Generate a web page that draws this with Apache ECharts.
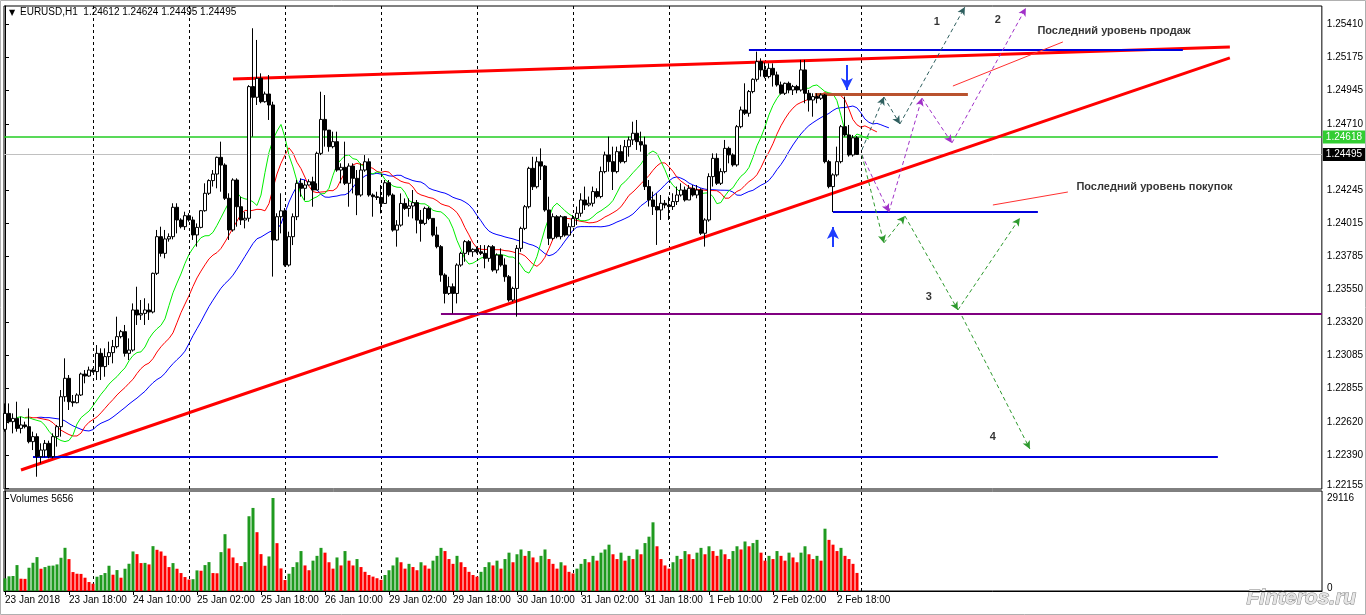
<!DOCTYPE html>
<html><head><meta charset="utf-8">
<script src="https://cdn.jsdelivr.net/npm/echarts@6/dist/echarts.min.js"></script>
<style>html,body{margin:0;padding:0;background:#fff}#c{width:1366px;height:615px}</style>
</head><body><div id="c"></div>
<script>
// ---------- DATA (EURUSD H1, bar index 0 = 23 Jan 2018 02:00) ----------
const opens=[1.22568,1.22680,1.22622,1.22645,1.22575,1.22599,1.22587,1.22482,1.22517,1.22377,
1.22423,1.22470,1.22377,1.22517,1.22587,1.22797,1.22926,1.22762,1.22755,1.22809,
1.22956,1.22942,1.22984,1.22973,1.23101,1.23008,1.23078,1.23106,1.23148,1.23218,
1.23253,1.23101,1.23124,1.23405,1.23370,1.23381,1.23405,1.23391,1.23662,1.23919,
1.23802,1.23903,1.23919,1.24125,1.24036,1.23989,1.24066,1.24036,1.23931,1.23984,
1.24101,1.24223,1.24312,1.24358,1.24475,1.24421,1.24188,1.23966,1.24316,1.24129,
1.24036,1.24048,1.24971,1.24896,1.25029,1.24865,1.24919,1.24842,1.23896,1.24059,
1.24100,1.23720,1.23919,1.24059,1.24293,1.24258,1.24281,1.24304,1.24246,1.24503,
1.24741,1.24666,1.24550,1.24585,1.24386,1.24405,1.24293,1.24414,1.24328,1.24211,
1.24386,1.24444,1.24211,1.24199,1.24194,1.24152,1.24297,1.24211,1.23965,1.24000,
1.24152,1.24117,1.24134,1.24157,1.24035,1.24012,1.24117,1.24047,1.23930,1.23849,
1.23650,1.23521,1.23568,1.23521,1.23720,1.23802,1.23884,1.23813,1.23830,1.23813,
1.23802,1.23767,1.23849,1.23685,1.23790,1.23720,1.23638,1.23475,1.23556,1.23837,
1.23977,1.24129,1.24398,1.24269,1.24444,1.24414,1.24106,1.23907,1.24059,1.23919,
1.24059,1.23930,1.23989,1.24047,1.24083,1.24176,1.24141,1.24153,1.24235,1.24200,
1.24375,1.24492,1.24445,1.24375,1.24515,1.24445,1.24550,1.24597,1.24644,1.24585,
1.24562,1.24270,1.24176,1.24130,1.24106,1.24153,1.24141,1.24130,1.24165,1.24211,
1.24246,1.24176,1.24258,1.24211,1.24246,1.23943,1.24036,1.24340,1.24468,1.24293,
1.24375,1.24538,1.24492,1.24422,1.24690,1.24807,1.24784,1.24936,1.25022,1.25146,
1.25088,1.25041,1.25099,1.25053,1.24983,1.24924,1.24994,1.24947,1.24971,1.24947,
1.25088,1.24924,1.24877,1.24901,1.24889,1.24912,1.24445,1.24270,1.24352,1.24445,
1.24690,1.24632,1.24492,1.24612];
const highs=[1.22750,1.22750,1.22680,1.22762,1.22657,1.22622,1.22715,1.22552,1.22540,1.22470,
1.22493,1.22489,1.22540,1.22599,1.22844,1.23066,1.22949,1.22809,1.22821,1.22966,
1.22984,1.23008,1.22996,1.23159,1.23136,1.23136,1.23183,1.23195,1.23358,1.23265,
1.23300,1.23206,1.23451,1.23568,1.23475,1.23487,1.23451,1.23667,1.23966,1.23989,
1.23966,1.23942,1.24153,1.24153,1.24048,1.24094,1.24083,1.24059,1.24012,1.24106,
1.24293,1.24321,1.24386,1.24480,1.24585,1.24433,1.24223,1.24328,1.24328,1.24199,
1.24094,1.24981,1.25380,1.25298,1.25064,1.24936,1.25052,1.24865,1.24083,1.24223,
1.24120,1.23954,1.24082,1.24316,1.24328,1.24316,1.24321,1.24339,1.24515,1.24935,
1.24912,1.24666,1.24655,1.24655,1.24433,1.24585,1.24433,1.24433,1.24386,1.24433,
1.24491,1.24468,1.24222,1.24234,1.24281,1.24316,1.24316,1.24222,1.24035,1.24222,
1.24187,1.24187,1.24246,1.24176,1.24106,1.24129,1.24129,1.24047,1.23989,1.23860,
1.23662,1.23638,1.23591,1.23732,1.23813,1.23895,1.23895,1.23837,1.23849,1.23860,
1.23860,1.23860,1.23860,1.23802,1.23837,1.23767,1.23650,1.23568,1.23860,1.23989,
1.24141,1.24409,1.24479,1.24479,1.24538,1.24421,1.24199,1.24082,1.24070,1.24070,
1.24064,1.24012,1.24070,1.24130,1.24223,1.24270,1.24200,1.24270,1.24258,1.24410,
1.24515,1.24620,1.24550,1.24550,1.24562,1.24597,1.24620,1.24725,1.24737,1.24655,
1.24620,1.24316,1.24235,1.24223,1.24211,1.24176,1.24200,1.24223,1.24270,1.24293,
1.24270,1.24281,1.24281,1.24281,1.24258,1.24048,1.24363,1.24503,1.24503,1.24398,
1.24597,1.24550,1.24503,1.24702,1.24831,1.24994,1.24947,1.25029,1.25216,1.25169,
1.25139,1.25134,1.25134,1.25076,1.25006,1.24999,1.25006,1.24983,1.24983,1.25158,
1.25158,1.24947,1.24924,1.24924,1.24924,1.24919,1.24457,1.24363,1.24550,1.24702,
1.24901,1.24702,1.24632,1.24624];
const lows=[1.22552,1.22610,1.22540,1.22552,1.22540,1.22575,1.22470,1.22423,1.22236,1.22330,
1.22372,1.22365,1.22365,1.22447,1.22517,1.22762,1.22704,1.22727,1.22750,1.22802,
1.22891,1.22937,1.22966,1.22914,1.22914,1.22937,1.23019,1.23031,1.23136,1.23206,
1.23078,1.23054,1.23113,1.23300,1.23335,1.23300,1.23335,1.23381,1.23650,1.23779,
1.23767,1.23884,1.23900,1.23942,1.23977,1.23966,1.24024,1.23896,1.23849,1.23977,
1.24094,1.24211,1.24270,1.24258,1.24234,1.24176,1.23896,1.23954,1.23989,1.24001,
1.23977,1.24024,1.24620,1.24842,1.24854,1.24858,1.24737,1.23639,1.23890,1.23942,
1.23709,1.23709,1.23860,1.24035,1.24199,1.24176,1.24281,1.24129,1.24293,1.24491,
1.24550,1.24515,1.24538,1.24374,1.24293,1.24281,1.24129,1.24222,1.24070,1.24199,
1.24374,1.24199,1.24059,1.24176,1.24082,1.24148,1.24199,1.23954,1.23849,1.23989,
1.24106,1.24059,1.24047,1.23942,1.23884,1.24000,1.24035,1.23919,1.23837,1.23603,
1.23451,1.23510,1.23381,1.23451,1.23708,1.23743,1.23790,1.23778,1.23802,1.23790,
1.23697,1.23743,1.23673,1.23662,1.23708,1.23603,1.23463,1.23463,1.23358,1.23813,
1.23965,1.24117,1.24246,1.24257,1.24316,1.24094,1.23860,1.23895,1.23907,1.23900,
1.23919,1.23930,1.23989,1.24001,1.24059,1.24106,1.24130,1.24130,1.24188,1.24188,
1.24363,1.24375,1.24246,1.24363,1.24433,1.24433,1.24480,1.24562,1.24527,1.24515,
1.24246,1.24130,1.24071,1.23861,1.24036,1.24118,1.24036,1.24106,1.24141,1.24200,
1.24165,1.24176,1.24200,1.24188,1.23931,1.23849,1.24024,1.24270,1.24281,1.24281,
1.24363,1.24433,1.24410,1.24410,1.24679,1.24772,1.24760,1.24924,1.25006,1.25041,
1.25029,1.25029,1.24971,1.24971,1.24915,1.24912,1.24924,1.24912,1.24924,1.24936,
1.24854,1.24796,1.24760,1.24854,1.24877,1.24433,1.24258,1.24092,1.24340,1.24433,
1.24620,1.24480,1.24480,1.24495];
const closes=[1.22680,1.22622,1.22645,1.22575,1.22599,1.22587,1.22482,1.22517,1.22377,1.22423,
1.22470,1.22377,1.22517,1.22587,1.22797,1.22926,1.22762,1.22755,1.22809,1.22956,
1.22942,1.22984,1.22973,1.23101,1.23008,1.23078,1.23106,1.23148,1.23218,1.23253,
1.23101,1.23124,1.23405,1.23370,1.23381,1.23405,1.23391,1.23662,1.23919,1.23802,
1.23903,1.23919,1.24125,1.24036,1.23989,1.24066,1.24036,1.23931,1.23984,1.24101,
1.24223,1.24312,1.24358,1.24475,1.24421,1.24188,1.23966,1.24316,1.24129,1.24036,
1.24048,1.24971,1.24896,1.25029,1.24865,1.24919,1.24842,1.23896,1.24059,1.24100,
1.23720,1.23919,1.24059,1.24293,1.24258,1.24281,1.24304,1.24246,1.24503,1.24741,
1.24666,1.24550,1.24585,1.24386,1.24405,1.24293,1.24414,1.24328,1.24211,1.24386,
1.24444,1.24211,1.24199,1.24194,1.24152,1.24297,1.24211,1.23965,1.24000,1.24152,
1.24117,1.24134,1.24157,1.24035,1.24012,1.24117,1.24047,1.23930,1.23849,1.23650,
1.23521,1.23568,1.23521,1.23720,1.23802,1.23884,1.23813,1.23830,1.23813,1.23802,
1.23767,1.23849,1.23685,1.23790,1.23720,1.23638,1.23475,1.23556,1.23837,1.23977,
1.24129,1.24398,1.24269,1.24444,1.24414,1.24106,1.23907,1.24059,1.23919,1.24059,
1.23930,1.23989,1.24047,1.24083,1.24176,1.24141,1.24153,1.24235,1.24200,1.24375,
1.24492,1.24445,1.24375,1.24515,1.24445,1.24550,1.24597,1.24644,1.24585,1.24562,
1.24270,1.24176,1.24130,1.24106,1.24153,1.24141,1.24130,1.24165,1.24211,1.24246,
1.24176,1.24258,1.24211,1.24246,1.23943,1.24036,1.24340,1.24468,1.24293,1.24375,
1.24538,1.24492,1.24422,1.24690,1.24807,1.24784,1.24936,1.25022,1.25146,1.25088,
1.25041,1.25099,1.25053,1.24983,1.24924,1.24994,1.24947,1.24971,1.24947,1.25088,
1.24924,1.24877,1.24901,1.24889,1.24912,1.24445,1.24270,1.24352,1.24445,1.24690,
1.24632,1.24492,1.24612,1.24495];
const volumes=[3952,4600,4700,8112,3848,3800,7280,8840,10608,6968,
7488,7904,7950,8320,10400,13520,9984,5928,5408,5350,
4160,2808,2288,4472,4992,5616,7904,5096,6552,4160,
6968,8528,12376,11544,8736,8800,8320,14040,12896,12376,
11024,7488,8736,6968,5616,4368,3600,3700,6448,6344,
8112,9048,5616,5550,12168,17784,13312,10504,8736,7800,
9048,23400,26000,18408,11544,7904,10816,29116,14976,7072,
3432,5408,7500,9000,12500,8000,6500,9500,11000,13500,
12000,9000,7000,10500,8000,12500,9500,8000,10000,7500,
6000,5000,4500,4000,3500,5000,6500,8000,10500,9000,
7000,8500,7500,6500,9000,8000,7000,9500,11000,13500,
12500,10000,8500,11000,9000,7500,6000,5000,4500,6000,
7500,9000,8000,9500,7000,10000,12000,9000,11500,13000,
11000,12500,10500,9000,11000,13000,10000,8500,7000,9000,
8000,6000,5500,7000,8500,10000,9000,11000,9500,12000,
13000,14500,11500,10000,12000,9500,11000,10000,13000,11500,
15000,17000,21500,14000,10000,8000,7000,9000,11000,10000,
12500,11500,10000,12000,13500,11500,14000,12500,11000,13000,
11500,10000,12500,14000,13000,15500,14000,15000,16000,12000,
9500,11000,10000,12500,11000,9500,12000,10500,9000,12000,
14000,11500,10000,11000,9500,19500,16000,14500,12500,13500,
11000,10000,8500,5656];
const symbolName='EURUSD,H1';
const askPrice=1.24618;
const timeLabels=['23 Jan 2018','23 Jan 18:00','24 Jan 10:00','25 Jan 02:00','25 Jan 18:00','26 Jan 10:00','29 Jan 02:00','29 Jan 18:00','30 Jan 10:00','31 Jan 02:00','31 Jan 18:00','1 Feb 10:00','2 Feb 02:00','2 Feb 18:00'];
const timeLabelBars=[0,16,32,48,64,80,96,112,128,144,160,176,192,208];
const daySeparators=[22,46,70,94,118,142,166,190,214];
const priceTicks=[1.22155,1.22390,1.22620,1.22855,1.23085,1.23320,1.23550,1.23785,1.24015,1.24245,1.24710,1.24945,1.25175,1.25410];
const volumeTicks=[0,29116];
// drawn objects (bar index, price)
const upperTrend=[[57,1.25024],[306.25,1.25249]];
const lowerTrend=[[4,1.22283],[306.25,1.25172]];
const sellLevelTop=[[186,1.25228],[294.5,1.25228]];
const sellLevel=[[202.5,1.24919],[240.75,1.24919]];
const buyLevel=[[207,1.24092],[258.25,1.24092]];
const purpleLevel=[[109,1.23377],[329.25,1.23377]];
const bottomLevel=[[7,1.22375],[303.25,1.22375]];
const downArrow=[[210.5,1.25123],[210.5,1.24947]];
const upArrow=[[207,1.23847],[207,1.23987]];
const path1=[[214.25,1.24527],[219.75,1.24898],[223.75,1.24709],[240,1.25529]];
const path2=[[214.25,1.24492],[221,1.24092],[229.25,1.24891],[236.75,1.24576],[255.25,1.25522]];
const path3=[[214.25,1.24492],[219.75,1.23875],[225,1.24064],[238.25,1.23405],[253.75,1.24050]];
const path4=[[239.25,1.23363],[256.25,1.22431]];
const noteSellLine=[[237,1.24975],[264.5,1.25284]];
const noteBuyLine=[[247,1.24141],[265.75,1.24232]];
const textNotes=[[233,1.25424,'1'],[248.25,1.25438,'2'],[231,1.23496,'3'],[247,1.22515,'4']];
const longNotes=[[258,1.25361,'Последний уровень продаж'],[267.75,1.24267,'Последний уровень покупок']];

// ---------- BUILD ----------
const N=closes.length;
const candleData=closes.map((c,i)=>[i,opens[i],c,lows[i],highs[i]]);
const median=highs.map((h,i)=>(h+lows[i])/2);
function smma(src,n){const out=[];let s;src.forEach((v,i)=>{s=(i===0)?v:(s*(n-1)+v)/n;out.push(s);});return out;}
const jaw=smma(median,13).map((v,i)=>[i+8,v]);
const teeth=smma(median,8).map((v,i)=>[i+5,v]);
const lips=smma(median,5).map((v,i)=>[i+3,v]);
const volData=volumes.map((v,i)=>({value:[i,v],itemStyle:{color:(i===0||v>volumes[i-1])?'#1f9a1f':'#ff0000'}}));

const FONT='Liberation Sans, Arial, sans-serif';
const XMIN=-0.25,XMAX=329.25;
function seg(a,b,style,endSym,symSize){
  return [{coord:a,symbol:'none',lineStyle:style},{coord:b,symbol:endSym||'none',symbolSize:symSize||8,lineStyle:style}];
}
function pathSegs(pts,style){
  const out=[];for(let i=0;i<pts.length-1;i++)out.push(seg(pts[i],pts[i+1],style,'arrow',[6,8]));return out;
}
function priceLineSeries(p,lineColor,boxColor,w){
  return {type:'line',xAxisIndex:0,yAxisIndex:0,data:[],silent:true,z:2,
    markLine:{silent:true,animation:false,symbol:['none','none'],
      lineStyle:{color:lineColor,width:w,type:'solid'},
      label:{show:true,position:'end',distance:1,formatter:p.toFixed(5),backgroundColor:boxColor,color:'#fff',padding:[2,3,1,3],fontSize:10,fontFamily:FONT},
      data:[[{coord:[XMIN,p]},{coord:[XMAX,p]}]]}};
}
const solid=(c,w)=>({color:c,width:w,type:'solid'});
const dashed=(c)=>({color:c,width:1,type:[4,3]});
const drawLines=[
  seg(lowerTrend[0],lowerTrend[1],solid('#ff0000',3)),
  seg(upperTrend[0],upperTrend[1],solid('#ff0000',3)),
  seg(sellLevelTop[0],sellLevelTop[1],solid('#0000dd',2)),
  seg(sellLevel[0],sellLevel[1],solid('#b9522e',3)),
  seg(buyLevel[0],buyLevel[1],solid('#0000dd',2)),
  seg(purpleLevel[0],purpleLevel[1],solid('#800080',2)),
  seg(bottomLevel[0],bottomLevel[1],solid('#0000dd',2)),
  seg(noteSellLine[0],noteSellLine[1],solid('#ff3030',1)),
  seg(noteBuyLine[0],noteBuyLine[1],solid('#ff3030',1)),
  seg(downArrow[0],downArrow[1],solid('#1e3cff',2),'arrow',[9,12]),
  seg(upArrow[0],upArrow[1],solid('#1e3cff',2),'arrow',[9,12]),
  ...pathSegs(path1,dashed('#2f5f5f')),
  ...pathSegs(path2,dashed('#a030c8')),
  ...pathSegs(path3,dashed('#2e9a2e')),
  ...pathSegs(path4,dashed('#2e9a2e'))
];

const option={
  animation:false,
  backgroundColor:'#ffffff',
  textStyle:{fontFamily:FONT},
  grid:[
    {left:4,top:6,width:1318,height:483,show:true,borderColor:'#000',borderWidth:1,backgroundColor:'#fff'},
    {left:4,top:491,width:1318,height:100,show:true,borderColor:'#000',borderWidth:1,backgroundColor:'#fff'}
  ],
  xAxis:[
    {type:'value',gridIndex:0,min:XMIN,max:XMAX,show:false,splitLine:{show:false}},
    {type:'value',gridIndex:1,min:XMIN,max:XMAX,splitLine:{show:false},
     axisLine:{show:true,lineStyle:{color:'#000'}},
     axisTick:{show:true,length:4,lineStyle:{color:'#000'},customValues:timeLabelBars},
     axisLabel:{customValues:timeLabelBars,align:'left',margin:4,color:'#000',fontSize:10,fontFamily:FONT,
       formatter:v=>{const k=timeLabelBars.indexOf(Math.round(v));return k>=0?timeLabels[k]:'';}}}
  ],
  yAxis:[
    {type:'value',gridIndex:0,position:'right',min:1.22150,max:1.25536,scale:true,splitLine:{show:false},
     axisLine:{show:true,lineStyle:{color:'#000'}},
     axisTick:{show:true,length:4,lineStyle:{color:'#000'},customValues:priceTicks},
     axisLabel:{customValues:priceTicks,margin:5,color:'#000',fontSize:10,fontFamily:FONT,
       formatter:v=>(Math.abs(v-priceTicks[0])<1e-7?'{lo|'+v.toFixed(5)+'}':v.toFixed(5)),
       rich:{lo:{fontSize:10,fontFamily:FONT,color:'#000',padding:[0,0,6,0]}}}},
    {type:'value',gridIndex:1,position:'right',min:0,max:31300,splitLine:{show:false},
     axisLine:{show:true,lineStyle:{color:'#000'}},
     axisTick:{show:true,length:4,lineStyle:{color:'#000'},customValues:volumeTicks},
     axisLabel:{customValues:volumeTicks,margin:5,color:'#000',fontSize:10,fontFamily:FONT,
       formatter:v=>(v===0?'{z|0}':String(v)),rich:{z:{fontSize:10,fontFamily:FONT,color:'#000',padding:[0,0,6,0]}}}}
  ],
  series:[
    {type:'line',xAxisIndex:0,yAxisIndex:0,data:[],silent:true,z:1,
     markLine:{silent:true,animation:false,symbol:['none','none'],label:{show:false},
       lineStyle:{color:'#000',type:[3,3],width:1},
       data:daySeparators.map(x=>({xAxis:x}))}},
    {type:'line',xAxisIndex:1,yAxisIndex:1,data:[],silent:true,z:1,
     markLine:{silent:true,animation:false,symbol:['none','none'],label:{show:false},
       lineStyle:{color:'#000',type:[3,3],width:1},
       data:daySeparators.map(x=>({xAxis:x}))}},
    priceLineSeries(askPrice,'#22cc22','#32cd32',1.5),
    priceLineSeries(closes[N-1],'#c0c0c0','#000000',1),
    {type:'candlestick',xAxisIndex:0,yAxisIndex:0,data:candleData,encode:{x:0,y:[1,2,3,4]},barWidth:3,z:5,
     itemStyle:{color:'#ffffff',color0:'#000000',borderColor:'#000000',borderColor0:'#000000',borderWidth:1}},
    {type:'line',xAxisIndex:0,yAxisIndex:0,data:jaw,showSymbol:false,z:4,lineStyle:{color:'#0000ff',width:1}},
    {type:'line',xAxisIndex:0,yAxisIndex:0,data:teeth,showSymbol:false,z:4,lineStyle:{color:'#ff0000',width:1}},
    {type:'line',xAxisIndex:0,yAxisIndex:0,data:lips,showSymbol:false,z:4,lineStyle:{color:'#00ee00',width:1}},
    {type:'line',xAxisIndex:0,yAxisIndex:0,data:[],silent:true,z:6,
     markLine:{silent:true,animation:false,symbol:['none','none'],label:{show:false},data:drawLines}},
    {type:'scatter',xAxisIndex:0,yAxisIndex:0,data:textNotes,symbolSize:1,itemStyle:{color:'rgba(0,0,0,0)'},z:7,
     label:{show:true,position:'inside',formatter:p=>p.data[2],color:'#000',fontWeight:'bold',fontSize:11,fontFamily:FONT}},
    {type:'scatter',xAxisIndex:0,yAxisIndex:0,data:longNotes,symbolSize:1,itemStyle:{color:'rgba(0,0,0,0)'},z:7,
     label:{show:true,position:'right',distance:0,formatter:p=>p.data[2],color:'#000',fontWeight:'bold',fontSize:11,fontFamily:FONT}},
    {type:'bar',xAxisIndex:1,yAxisIndex:1,data:volData,barWidth:3,z:5}
  ],
  graphic:[
    {type:'rect',shape:{x:0.5,y:0.5,width:1365,height:614},style:{fill:'none',stroke:'#b0b0b0',lineWidth:1},silent:true},
    {type:'text',left:9,top:9,style:{text:'▼',font:'8px DejaVu Sans',fill:'#000'},silent:true},
    {type:'text',left:20,top:7,style:{text:symbolName+'  '+[opens[N-1],highs[N-1],lows[N-1],closes[N-1]].map(v=>v.toFixed(5)).join(' '),font:'10px '+FONT,fill:'#000'},silent:true},
    {type:'text',left:10,top:494,style:{text:'Volumes '+volumes[N-1],font:'10px '+FONT,fill:'#000'},silent:true},
    {type:'text',left:1246,top:587,style:{text:'Finteros.ru',font:'italic bold 21px '+FONT,fill:'#e6e6e6',stroke:'#808080',lineWidth:1},silent:true}
  ]
};
const chart=echarts.init(document.getElementById('c'));
chart.setOption(option);
</script>
</body></html>
